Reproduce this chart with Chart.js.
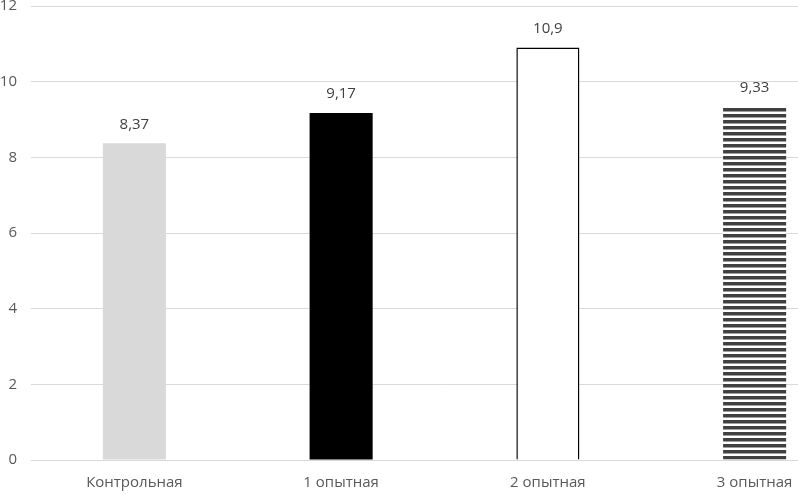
<!DOCTYPE html>
<html><head><meta charset="utf-8">
<script src="https://cdn.jsdelivr.net/npm/chart.js@4/dist/chart.umd.min.js"></script>
<style>
html,body{margin:0;padding:0;background:#fff;overflow:hidden;width:798px;height:494px;}
#wrap{position:absolute;left:-10px;top:0;width:880px;height:494px;}
</style></head>
<body>
<div id="wrap"><canvas id="c" width="880" height="494"></canvas></div>
<script>
const categories = ['Контрольная', '1 опытная', '2 опытная', '3 опытная'];
const values = [8.37, 9.17, 10.9, 9.33];
const valueLabels = ['8,37', '9,17', '10,9', '9,33'];
const yTicks = [0, 2, 4, 6, 8, 10, 12];

const FONT = '"Open Sans", "Noto Sans", sans-serif';

function stripePattern() {
  const p = document.createElement('canvas');
  p.width = 6; p.height = 6;
  const g = p.getContext('2d');
  g.fillStyle = '#ffffff'; g.fillRect(0, 0, 6, 6);
  g.fillStyle = '#404040'; g.fillRect(0, 0, 6, 3.5);
  return document.getElementById('c').getContext('2d').createPattern(p, 'repeat');
}

const valueLabelPlugin = {
  id: 'valueLabels',
  afterDatasetsDraw(chart) {
    const ctx = chart.ctx;
    const meta = chart.getDatasetMeta(0);
    ctx.save();
    ctx.font = '15px ' + FONT;
    ctx.fillStyle = '#404040';
    ctx.textAlign = 'center';
    ctx.textBaseline = 'middle';
    meta.data.forEach((bar, i) => {
      ctx.fillText(valueLabels[i], bar.x, bar.y - 19);
    });
    ctx.restore();
  }
};

new Chart(document.getElementById('c'), {
  type: 'bar',
  data: {
    labels: categories,
    datasets: [{
      data: values,
      backgroundColor: ['#d9d9d9', '#000000', '#ffffff', stripePattern()],
      borderColor: ['#d9d9d9', '#000000', '#000000', '#ffffff'],
      borderWidth: [0, 0, 1.5, 0],
      barPercentage: 0.305,
      categoryPercentage: 1
    }]
  },
  options: {
    responsive: false,
    animation: false,
    events: [],
    layout: { padding: { top: 6, right: 12, left: 0, bottom: 0 } },
    plugins: { legend: { display: false }, tooltip: { enabled: false } },
    scales: {
      x: {
        offset: true,
        grid: { display: false },
        border: { display: false },
        ticks: { color: '#595959', font: { family: FONT, size: 15 }, padding: 6, maxRotation: 0 },
        afterFit(s) { s.height = 34; s.paddingLeft = 0; s.paddingRight = 0; }
      },
      y: {
        min: 0, max: 12,
        afterBuildTicks(s) { s.ticks = yTicks.map(v => ({ value: v })); },
        grid: { color: '#d9d9d9', lineWidth: 1, drawTicks: false },
        border: { display: false },
        ticks: { color: '#595959', font: { family: FONT, size: 15 }, padding: 14 },
        afterFit(s) { s.width = 41; s.paddingTop = 0; s.paddingBottom = 0; }
      }
    }
  },
  plugins: [valueLabelPlugin]
});
</script>
</body></html>
